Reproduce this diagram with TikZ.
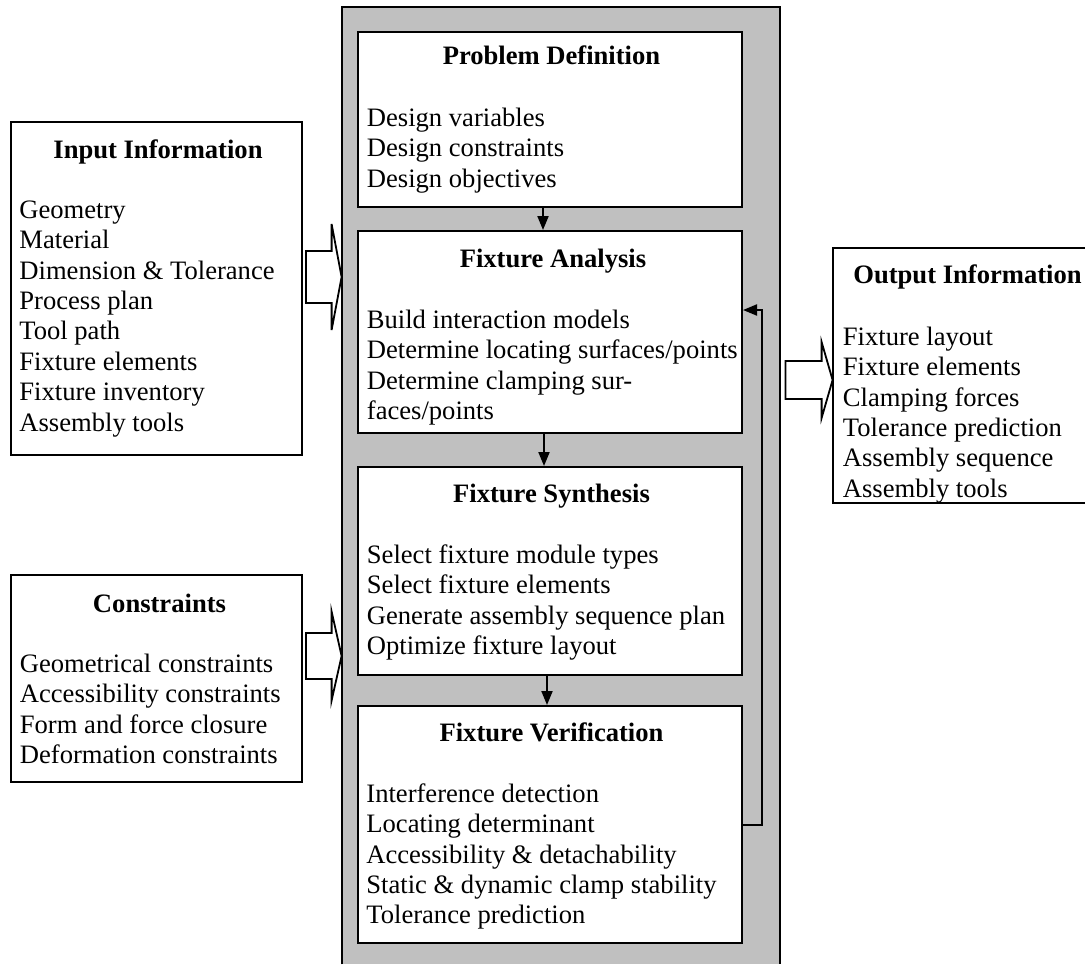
\documentclass[tikz,border=0pt]{standalone}
\usepackage{fontspec}
\setmainfont{Liberation Serif}
\usetikzlibrary{arrows.meta,calc,fit}

\definecolor{panelgray}{RGB}{192,192,192}
\newcommand{\txtsize}{\fontsize{13.3pt}{15.2pt}\selectfont}

% hollow block arrow: start, end, half tail width, half head width, head length
\newcommand{\fatarrow}[5]{%
  \draw[blockarrow] let \p1=(#1), \p2=(#2) in
    (\x1,{\y1+#3}) -- ({\x2-#5},{\y1+#3}) -- ({\x2-#5},{\y1+#4}) -- (\x2,\y1)
    -- ({\x2-#5},{\y1-#4}) -- ({\x2-#5},{\y1-#3}) -- (\x1,{\y1-#3}) -- cycle;}

\tikzset{
  panel/.style={fill=panelgray, inner sep=0pt},
  box/.style={draw, line width=1pt, fill=white, inner sep=0pt},
  ttl/.style={font=\txtsize\bfseries, anchor=base, inner sep=0pt},
  body/.style={font=\txtsize, align=left, anchor=north west, inner sep=0pt},
  flow/.style={line width=1pt, -{Triangle[length=7pt,width=5.5pt]}},
  blockarrow/.style={draw, line width=0.9pt, fill=white, line join=miter},
  rim/.style={line width=1pt, line join=miter},
}

\begin{document}
\begin{tikzpicture}[x=0.5pt, y=-0.5pt]
\useasboundingbox (0,0) rectangle (1085,964);

% central process column
\node[panel, fit={(342,7) (780,964)}] (core) {};
\draw[rim] (core.south west) -- (core.north west) -- (core.north east) -- (core.south east);

% process stages
\node[box, fit={(358,32) (742,207)}] (pd) {};
\node[box, fit={(358,231) (742,433)}] (fa) {};
\node[box, fit={(358,467) (742,675)}] (fs) {};
\node[box, fit={(358,706) (742,943)}] (fv) {};

\node[ttl] (pdt) at (551.5,64) {Problem Definition};
\node[body] (pdb) at (366.5,104.7) {\strut Design variables\\Design constraints\\Design objectives};

\node[ttl] (fat) at (553,267) {Fixture Analysis};
\node[body] (fab) at (366.5,306.7) {\strut Build interaction models\\Determine locating surfaces/points\\Determine clamping sur-\\faces/points};

\node[ttl] (fst) at (551.5,502) {Fixture Synthesis};
\node[body] (fsb) at (366.5,541.7) {\strut Select fixture module types\\Select fixture elements\\Generate assembly sequence plan\\Optimize fixture layout};

\node[ttl] (fvt) at (551.5,741) {Fixture Verification};
\node[body] (fvb) at (366,780.7) {\strut Interference detection\\Locating determinant\\Accessibility \& detachability\\Static \& dynamic clamp stability\\Tolerance prediction};

% side boxes
\node[box, fit={(11,122) (302,455)}] (inbox) {};
\node[ttl] (int) at (158,158) {Input Information};
\node[body] (inb) at (19,196.7) {\strut Geometry\\Material\\Dimension \& Tolerance\\Process plan\\Tool path\\Fixture elements\\Fixture inventory\\Assembly tools};

\node[box, fit={(11,575) (302,782)}] (conbox) {};
\node[ttl] (cont) at (159.5,612) {Constraints};
\node[body] (conb) at (19.5,650.7) {\strut Geometrical constraints\\Accessibility constraints\\Form and force closure\\Deformation constraints};

\node[panel, fill=white, fit={(833,248) (1085,503)}] (outbox) {};
\draw[rim] (outbox.north east) -- (outbox.north west) -- (outbox.south west) -- (outbox.south east);
\node[ttl] (outt) at (967.5,283) {Output Information};
\node[body] (outb) at (842.5,323.7) {\strut Fixture layout\\Fixture elements\\Clamping forces\\Tolerance prediction\\Assembly sequence\\Assembly tools};

% flow between stages
\coordinate (pdOut) at ($(pd.south)+(-7,0)$);
\coordinate (faOut) at ($(fa.south)+(-6,0)$);
\coordinate (fsOut) at ($(fs.south)+(-3,0)$);
\draw[flow] (pdOut) -- (pdOut |- fa.north);
\draw[flow] (faOut) -- (faOut |- fs.north);
\draw[flow] (fsOut) -- (fsOut |- fv.north);

% verification feeds back into analysis
\coordinate (faIn) at ($(fa.east)+(0,-22)$);
\coordinate (fvTurn) at ($(fv.east)+(19,0)$);
\draw[rim, flow] (fv.east) -- (fvTurn) |- (faIn);

% block arrows into and out of the column
\coordinate (inFrom) at ($(inbox.east |- 0,277)+(3,0)$);
\coordinate (inTo) at (core.west |- inFrom);
\fatarrow{inFrom}{inTo}{13pt}{26.5pt}{5pt}

\coordinate (conFrom) at ($(conbox.east |- 0,656)+(3,0)$);
\coordinate (conTo) at (core.west |- conFrom);
\fatarrow{conFrom}{conTo}{11.5pt}{22.25pt}{5pt}

\coordinate (outFrom) at ($(core.east |- 0,380)+(5,0)$);
\coordinate (outTo) at (outbox.west |- outFrom);
\fatarrow{outFrom}{outTo}{9.5pt}{19pt}{5.5pt}
\end{tikzpicture}
\end{document}
